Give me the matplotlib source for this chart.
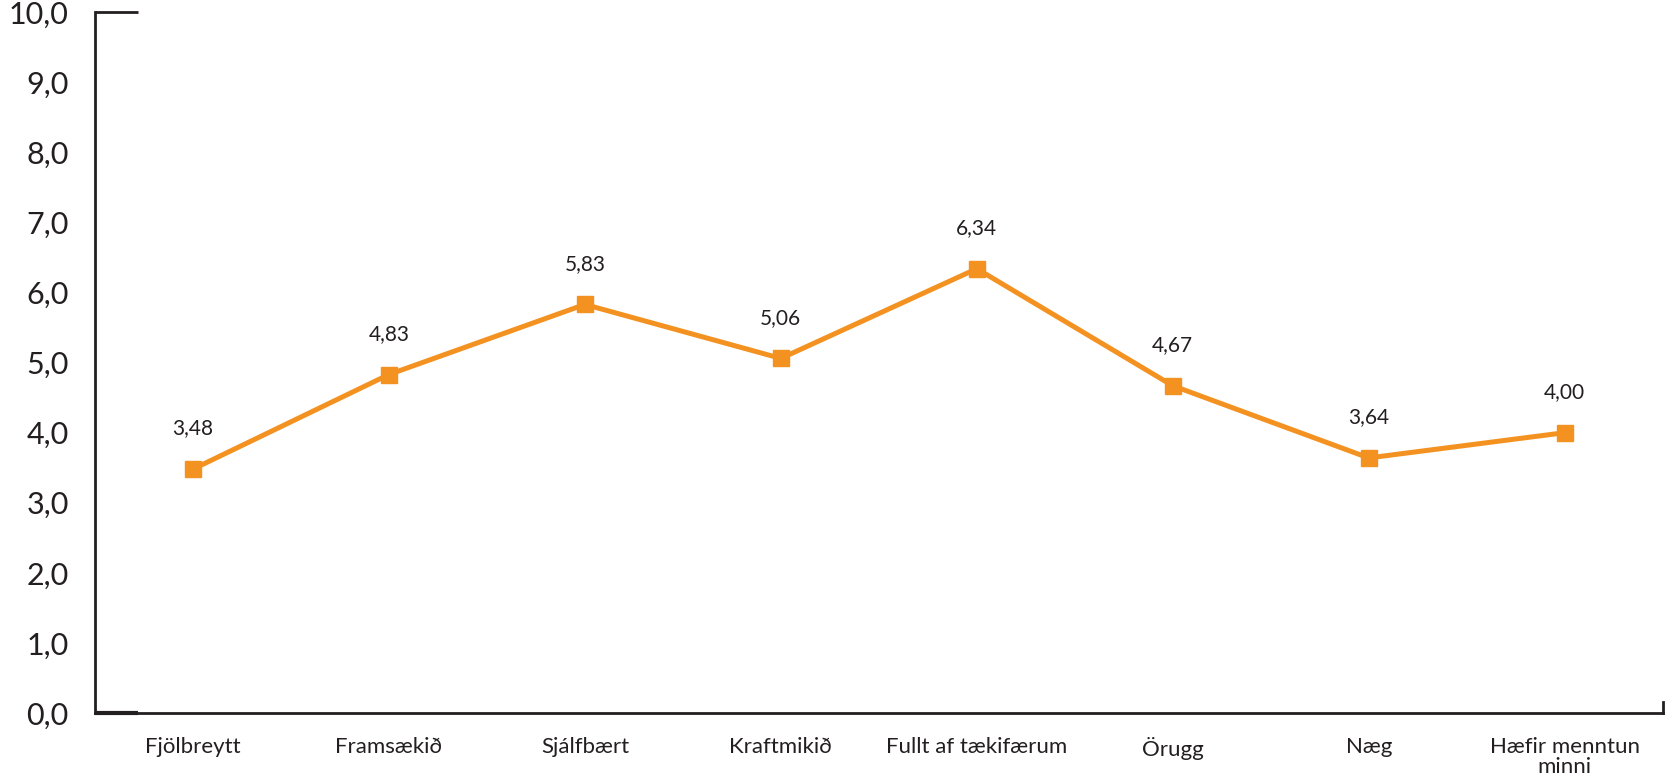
import matplotlib
matplotlib.use('Agg')
import matplotlib.pyplot as plt
from matplotlib.ticker import FuncFormatter

categories = ["Fjölbreytt", "Framsækið", "Sjálfbært", "Kraftmikið",
              "Fullt af tækifærum", "Örugg", "Næg", "Hæfir menntun\nminni"]
values = [3.48, 4.83, 5.83, 5.06, 6.34, 4.67, 3.64, 4.00]
y_ticks = [0, 1, 2, 3, 4, 5, 6, 7, 8, 9, 10]

ORANGE = "#f39220"
DARK = "#231f20"

plt.rcParams['font.family'] = ['Lato', 'DejaVu Sans']

fig = plt.figure(figsize=(16.66, 7.83), dpi=100)
ax = fig.add_axes([0.057, 0.0894, 0.941, 0.895])

x = list(range(len(categories)))
ax.plot(x, values, color=ORANGE, lw=3.6, marker="s", markersize=11,
        markerfacecolor=ORANGE, markeredgecolor=ORANGE, zorder=3)

for xi, v in zip(x, values):
    ax.annotate(f"{v:.2f}".replace(".", ","), (xi, v), xytext=(0, 22),
                textcoords="offset points", ha="center", va="bottom",
                fontsize=15, color=DARK)

ax.set_xlim(-0.5, len(categories) - 0.5)
ax.set_ylim(0, 10)
ax.set_yticks(y_ticks)
ax.yaxis.set_major_formatter(FuncFormatter(lambda v, p: f"{v:.1f}".replace(".", ",")))
ax.set_xticks(x)
ax.set_xticklabels(categories, fontsize=16, color=DARK, linespacing=1.05)
ax.tick_params(axis="y", length=0, pad=19, labelsize=22, labelcolor=DARK)
ax.tick_params(axis="x", length=0, pad=17)

for s in ["top", "right"]:
    ax.spines[s].set_visible(False)
for s in ["left", "bottom"]:
    ax.spines[s].set_color(DARK)
    ax.spines[s].set_linewidth(2)

# short cap at top of y axis and small end tick on x axis
ax.plot([-0.5, -0.28], [10, 10], color=DARK, lw=2, clip_on=False, solid_capstyle="butt")
ax.plot([-0.5, -0.28], [0, 0], color=DARK, lw=3, clip_on=False, solid_capstyle="butt")
ax.plot([len(categories) - 0.5] * 2, [0, 0.15], color=DARK, lw=2, clip_on=False)

fig.savefig("out.png", dpi=100)
